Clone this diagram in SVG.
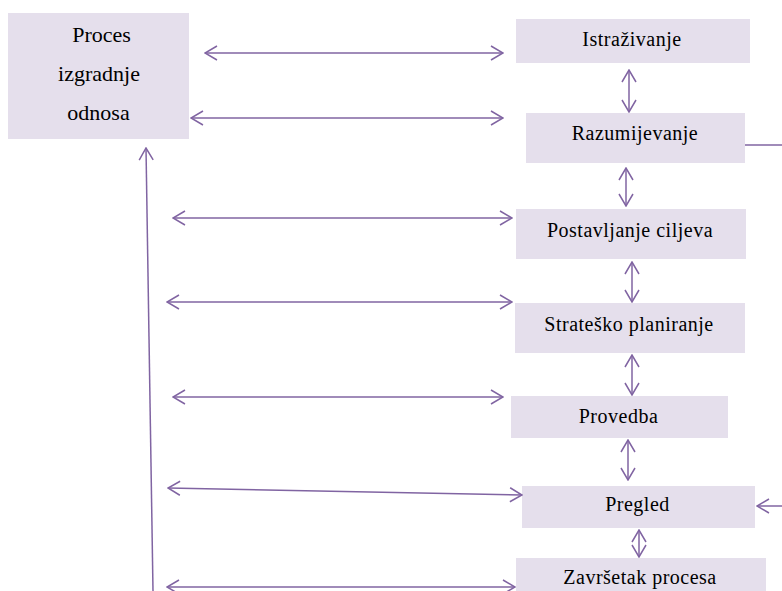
<svg xmlns="http://www.w3.org/2000/svg" width="782" height="591" viewBox="0 0 782 591">
<style>
.box{fill:#e5dfec;}
.t{font-family:"Liberation Serif","Times New Roman",serif;font-size:20px;letter-spacing:0.5px;fill:#000;text-anchor:middle;}
.tp{font-family:"Liberation Serif","Times New Roman",serif;font-size:22px;fill:#000;text-anchor:middle;}
.c{stroke:#8064a2;stroke-width:1.5;fill:none;}
.ab{marker-start:url(#ah);marker-end:url(#ah);}
.ae{marker-end:url(#ah);}
</style>
<defs>
<marker id="ah" viewBox="0 0 14 16" refX="13" refY="8" markerWidth="14" markerHeight="16" markerUnits="userSpaceOnUse" orient="auto-start-reverse">
<path d="M1,1 L13,8 L1,15" fill="none" stroke="#8064a2" stroke-width="1.5"/>
</marker>
</defs>
<rect width="782" height="591" fill="#fff"/>
<g id="proces">
<rect class="box" x="8" y="13" width="181" height="126"/>
<text class="tp" x="101.5" y="42">Proces</text>
<text class="tp" x="99" y="81">izgradnje</text>
<text class="tp" x="98.5" y="120">odnosa</text>
</g>
<g id="istrazivanje">
<rect class="box" x="516" y="19" width="234" height="44"/>
<text class="t" x="632" y="46">Istraživanje</text>
</g>
<g id="razumijevanje">
<rect class="box" x="526" y="113" width="219" height="50"/>
<text class="t" x="635" y="140">Razumijevanje</text>
</g>
<g id="postavljanje">
<rect class="box" x="516" y="209" width="230" height="50"/>
<text class="t" x="630" y="237">Postavljanje ciljeva</text>
</g>
<g id="stratesko">
<rect class="box" x="515" y="303" width="230" height="50"/>
<text class="t" x="629" y="331">Strateško planiranje</text>
</g>
<g id="provedba">
<rect class="box" x="511" y="396" width="217" height="42"/>
<text class="t" x="618.5" y="423">Provedba</text>
</g>
<g id="pregled">
<rect class="box" x="522" y="486" width="233" height="42"/>
<text class="t" x="637.5" y="511">Pregled</text>
</g>
<g id="zavrsetak">
<rect class="box" x="516" y="558" width="250" height="40"/>
<text class="t" x="640" y="584">Završetak procesa</text>
</g>
<g id="connectors">
<line class="c ab" x1="205" y1="53" x2="503" y2="53"/>
<line class="c ab" x1="191" y1="118" x2="503" y2="118"/>
<line class="c ab" x1="173" y1="218" x2="512" y2="218"/>
<line class="c ab" x1="167" y1="302" x2="512" y2="302"/>
<line class="c ab" x1="173" y1="397" x2="503" y2="397"/>
<line class="c ab" x1="168" y1="488" x2="522" y2="495"/>
<line class="c ab" x1="167" y1="587" x2="515" y2="587"/>
<line class="c ae" x1="153" y1="591" x2="146" y2="148"/>
<line class="c" x1="745" y1="145" x2="782" y2="145"/>
<line class="c ae" x1="782" y1="506" x2="757" y2="506"/>
<line class="c ab" x1="629" y1="70" x2="629" y2="112"/>
<line class="c ab" x1="626" y1="168" x2="626" y2="206"/>
<line class="c ab" x1="632" y1="262" x2="632" y2="302"/>
<line class="c ab" x1="632" y1="355" x2="632" y2="395"/>
<line class="c ab" x1="628" y1="440" x2="628" y2="480"/>
<line class="c ab" x1="639" y1="530" x2="639" y2="557"/>
</g>
</svg>
